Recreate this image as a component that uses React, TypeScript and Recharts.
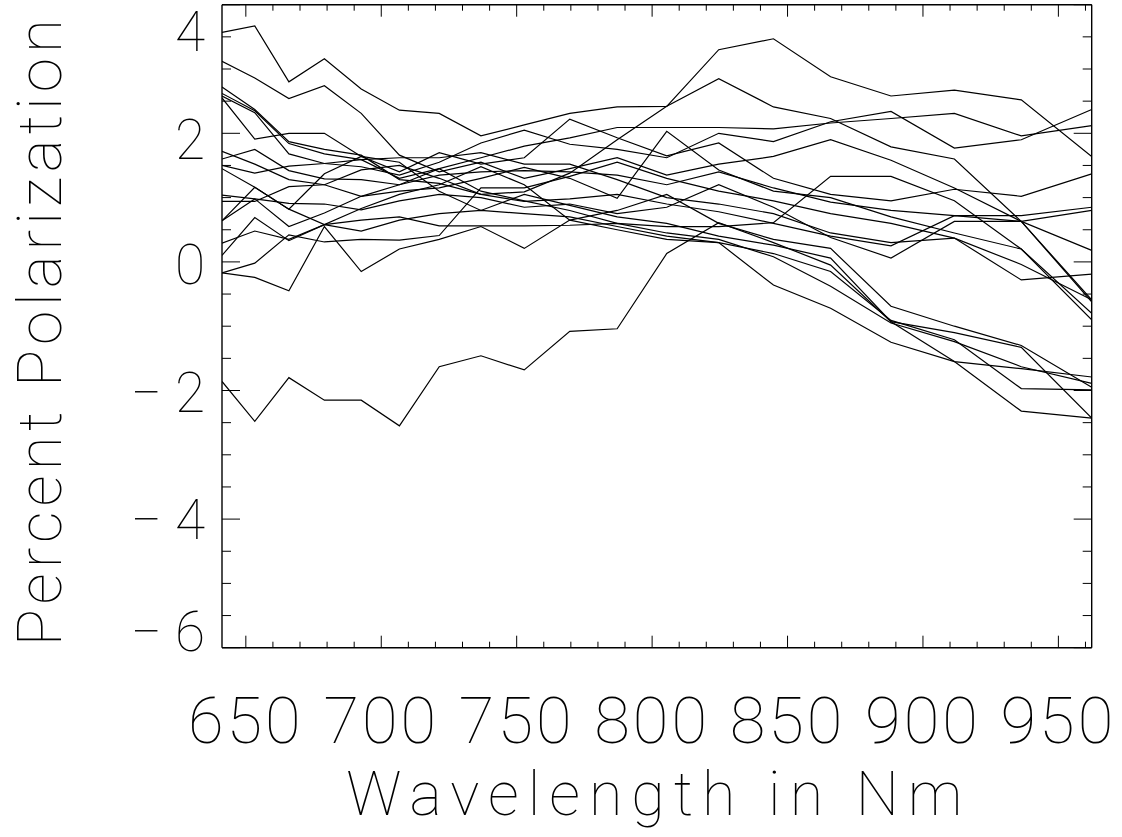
import { LineChart, Line, XAxis, YAxis, Label } from "recharts";

// wavelength of each sample, nm
const wavelengths = [
  641.2, 653.3, 665.9, 679.0, 692.6, 706.7, 721.4, 736.8, 752.8, 769.6,
  787.1, 805.4, 824.6, 844.8, 865.9, 888.2, 911.6, 936.3, 962.3,
];

// percent polarization, one list per object
const curves: number[][] = [
  [3.57, 3.67, 2.8, 3.16, 2.69, 2.36, 2.31, 1.96, 2.13, 2.31, 2.41, 2.42, 3.3, 3.47, 2.88, 2.58, 2.67, 2.52, 1.64],
  [3.12, 2.86, 2.54, 2.74, 2.31, 1.66, 1.4, 1.55, 1.3, 1.45, 1.62, 1.35, 1.52, 1.64, 1.9, 1.58, 1.15, 0.63, -0.62],
  [2.72, 2.37, 1.87, 1.75, 1.66, 1.28, 1.22, 1.05, 1.09, 1.38, 1.9, 2.42, 2.85, 2.41, 2.23, 1.79, 1.6, 0.63, -0.59],
  [2.62, 2.35, 1.84, 1.68, 1.59, 1.3, 1.45, 1.62, 1.8, 1.93, 2.09, 2.09, 2.09, 2.07, 2.16, 2.23, 2.31, 1.96, 2.12],
  [2.58, 2.32, 1.68, 1.53, 1.48, 1.35, 1.55, 1.85, 2.05, 1.83, 1.75, 1.62, 2.0, 1.87, 2.18, 2.34, 1.77, 1.9, 2.37],
  [2.55, 1.91, 2.0, 2.0, 1.64, 1.4, 1.7, 1.52, 1.62, 2.22, 1.93, 1.65, 1.85, 1.3, 1.05, 0.95, 1.13, 1.02, 1.37],
  [1.72, 1.52, 1.28, 1.2, 1.02, 1.1, 1.15, 1.3, 1.47, 1.3, 0.99, 2.03, 1.43, 1.1, 1.0, 0.7, 0.45, 0.2, -0.9],
  [1.6, 1.75, 1.42, 1.29, 1.28, 1.2, 1.35, 1.4, 1.42, 1.4, 1.35, 1.2, 1.4, 1.15, 0.93, 0.8, 0.72, 0.72, 0.85],
  [1.5, 1.38, 1.49, 1.53, 1.59, 1.62, 1.62, 1.7, 1.52, 1.52, 1.28, 1.0, 0.9, 0.75, 0.45, 0.3, 0.37, -0.28, -0.19],
  [1.45, 1.16, 0.82, 1.37, 1.64, 1.55, 1.1, 0.8, 1.05, 0.88, 0.7, 0.6, 0.4, 0.26, 0.06, -0.93, -1.1, -1.33, -2.43],
  [1.04, 0.98, 0.91, 0.9, 0.81, 0.95, 1.05, 1.0, 0.85, 0.9, 0.75, 0.85, 1.2, 0.85, 0.38, 0.06, 0.63, 0.63, 0.8],
  [0.94, 0.94, 1.17, 1.2, 1.43, 1.5, 1.3, 1.05, 0.94, 0.98, 1.05, 0.9, 0.78, 0.6, 0.4, 0.25, 0.72, 0.63, 0.18],
  [0.64, 1.16, 0.82, 0.58, 0.83, 1.05, 1.2, 1.48, 1.2, 0.65, 0.5, 0.35, 0.3, 0.13, -0.15, -0.91, -1.21, -1.97, -1.99],
  [0.64, 0.98, 0.55, 0.76, 1.02, 1.2, 1.45, 1.1, 0.95, 0.8, 0.6, 0.45, 0.35, 0.08, -0.38, -0.95, -1.24, -1.63, -1.89],
  [0.29, 0.48, 0.35, 0.58, 0.48, 0.65, 0.75, 0.8, 0.75, 0.7, 0.55, 0.4, 0.3, -0.36, -0.72, -1.25, -1.55, -1.66, -1.79],
  [0.1, 0.69, 0.33, 0.58, 0.65, 0.7, 0.56, 0.56, 0.56, 0.57, 0.6, 0.55, 0.55, 0.61, 1.33, 1.33, 0.95, 0.2, -0.8],
  [-0.17, -0.02, 0.42, 0.31, 0.35, 0.34, 0.41, 1.15, 1.15, 1.33, 1.55, 1.3, 1.1, 0.95, 0.75, 0.6, 0.37, -0.04, -0.59],
  [-0.17, -0.24, -0.45, 0.55, -0.15, 0.2, 0.35, 0.55, 0.21, 0.65, 0.8, 1.05, 0.6, 0.35, 0.21, -0.69, -1.0, -1.3, -1.95],
  [-1.86, -2.48, -1.8, -2.15, -2.15, -2.55, -1.63, -1.46, -1.68, -1.08, -1.04, 0.13, 0.61, 0.3, -0.05, -0.93, -1.55, -2.32, -2.43],
];

const xTicks = [
  650, 660, 670, 680, 690, 700, 710, 720, 730, 740, 750, 760, 770, 780, 790, 800,
  810, 820, 830, 840, 850, 860, 870, 880, 890, 900, 910, 920, 930, 940, 950, 960,
];
const xLabels = [650, 700, 750, 800, 850, 900, 950];
const yTicks = [
  -6, -5.5, -5, -4.5, -4, -3.5, -3, -2.5, -2, -1.5, -1, -0.5, 0, 0.5, 1, 1.5, 2, 2.5, 3, 3.5, 4,
];
const yLabels = [-6, -4, -2, 0, 2, 4];

const data = wavelengths.map((wl, i) => {
  const row: Record<string, number> = { wl };
  curves.forEach((c, k) => (row["p" + k] = c[i]));
  return row;
});

const FONT = "Roboto, 'DejaVu Sans', sans-serif";
const INK = "#000";

const BottomTick = ({ x, y, payload }: any) => {
  const major = xLabels.includes(payload.value);
  return (
    <g>
      <line x1={x} x2={x} y1={y} y2={y - (major ? 12 : 6)} stroke={INK} />
      {major && (
        <text x={x} y={y + 95} textAnchor="middle" fontFamily={FONT} fontWeight={100}
          fontSize={65} letterSpacing={3} fill={INK}>
          {payload.value}
        </text>
      )}
    </g>
  );
};

const TopTick = ({ x, y, payload }: any) => {
  const major = xLabels.includes(payload.value);
  return <line x1={x} x2={x} y1={y} y2={y + (major ? 12 : 6)} stroke={INK} />;
};

// labels at the ends sit a little inside the frame, as in the original
const yShift: Record<number, number> = { 4: 27, 2: 7, 0: 3, "-2": 2, "-4": 1, "-6": -16 };

const LeftTick = ({ x, y, payload }: any) => {
  const v = payload.value;
  const major = yLabels.includes(v);
  return (
    <g>
      <line x1={x} x2={x + (major ? 18 : 9)} y1={y} y2={y} stroke={INK} />
      {major && (
        <text x={x - 17} y={y + yShift[v] + 19} textAnchor="end" fontFamily={FONT}
          fontWeight={100} fontSize={55} fill={INK}>
          {v < 0 ? "\u2212 " + Math.abs(v) : v}
        </text>
      )}
    </g>
  );
};

const RightTick = ({ x, y, payload }: any) => {
  const major = yLabels.includes(payload.value);
  return <line x1={x} x2={x - (major ? 18 : 9)} y1={y} y2={y} stroke={INK} />;
};

export default function App() {
  return (
    <div style={{ position: "absolute", left: 0, top: 0, background: "#fff" }}>
      <LineChart
        width={1122}
        height={837}
        data={data}
        margin={{ top: 2.7, right: 20.3, bottom: 159.3, left: 162 }}
      >
        <XAxis
          dataKey="wl"
          type="number"
          domain={[641.2, 962.3]}
          ticks={xTicks}
          interval={0}
          allowDataOverflow
          height={30}
          tickSize={0}
          tickMargin={0}
          tickLine={false}
          tick={<BottomTick />}
          axisLine={{ stroke: INK, strokeWidth: 1.4 }}
        >
          <Label
            content={({ viewBox }: any) => (
              <text x={viewBox.x + viewBox.width / 2 + 2} y={viewBox.y + 167} textAnchor="middle"
                fontFamily={FONT} fontWeight={100} fontSize={61} letterSpacing={9} fill={INK}>
                Wavelength in Nm
              </text>
            )}
          />
        </XAxis>
        <XAxis
          xAxisId="top"
          orientation="top"
          dataKey="wl"
          type="number"
          domain={[641.2, 962.3]}
          ticks={xTicks}
          interval={0}
          allowDataOverflow
          height={2}
          tickSize={0}
          tickMargin={0}
          tickLine={false}
          tick={<TopTick />}
          axisLine={{ stroke: INK, strokeWidth: 1.4 }}
        />
        <YAxis
          type="number"
          domain={[-6, 4]}
          ticks={yTicks}
          interval={0}
          allowDataOverflow
          width={60}
          tickSize={0}
          tickMargin={0}
          tickLine={false}
          tick={<LeftTick />}
          axisLine={{ stroke: INK, strokeWidth: 1.4 }}
        >
          <Label
            content={({ viewBox }: any) => {
              const cy = viewBox.y + viewBox.height / 2 + 4;
              return (
                <text x={61} y={cy} transform={`rotate(-90, 61, ${cy})`} textAnchor="middle"
                  fontFamily={FONT} fontWeight={100} fontSize={62} letterSpacing={5} fill={INK}>
                  Percent Polarization
                </text>
              );
            }}
          />
        </YAxis>
        <YAxis
          yAxisId="right"
          orientation="right"
          type="number"
          domain={[-6, 4]}
          ticks={yTicks}
          interval={0}
          allowDataOverflow
          width={10}
          tickSize={0}
          tickMargin={0}
          tickLine={false}
          tick={<RightTick />}
          axisLine={{ stroke: INK, strokeWidth: 1.4 }}
        />
        {curves.map((_, k) => (
          <Line
            key={k}
            dataKey={"p" + k}
            stroke={INK}
            strokeWidth={1.2}
            dot={false}
            isAnimationActive={false}
          />
        ))}
      </LineChart>
    </div>
  );
}
